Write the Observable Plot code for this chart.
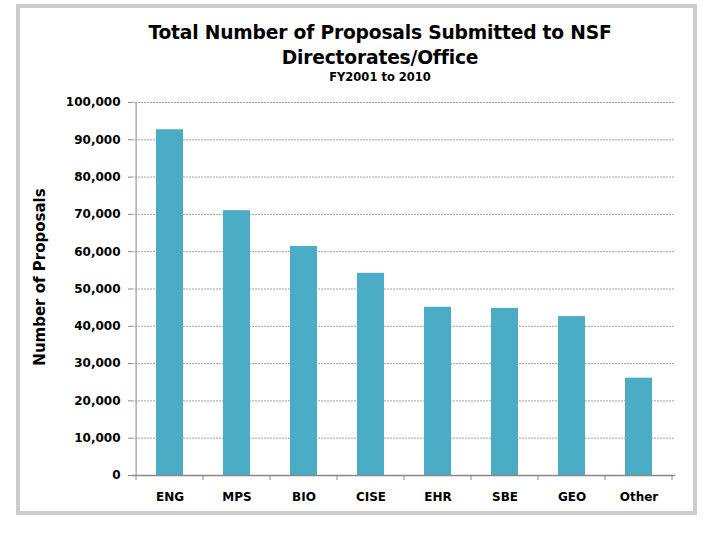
<!DOCTYPE html>
<html><head><meta charset="utf-8">
<script src="https://cdn.jsdelivr.net/npm/d3@7"></script>
<script src="https://cdn.jsdelivr.net/npm/@observablehq/plot@0.6"></script>
<style>
body{margin:0;background:#fff;font-family:"DejaVu Sans",Verdana,sans-serif;}
#wrap{position:relative;width:720px;height:540px;overflow:hidden;}
#frame{position:absolute;left:16px;top:4px;width:673px;height:503px;border:4px solid #cccccc;}
.t{position:absolute;left:0;width:760px;text-align:center;font-weight:bold;color:#000;}
#chart{position:absolute;left:0;top:0;}
</style></head>
<body><div id="wrap"><div id="frame"></div>
<div class="t" style="top:22px;font-size:18.7px;letter-spacing:-0.2px">Total Number of Proposals Submitted to NSF</div>
<div class="t" style="top:47px;font-size:18.7px;letter-spacing:-0.2px">Directorates/Office</div>
<div class="t" style="top:70px;font-size:11.5px">FY2001 to 2010</div>
<div id="chart"></div></div>
<script>
const categories = ["ENG","MPS","BIO","CISE","EHR","SBE","GEO","Other"];
const proposals = [92700, 71000, 61400, 54200, 45100, 44800, 42600, 26100];
const yTicks = [0,10000,20000,30000,40000,50000,60000,70000,80000,90000,100000];
const yLabel = "Number of Proposals";

const data = categories.map((c,i)=>({cat:c, value:proposals[i]}));
const fmt = d3.format(",");

const boundaryTicks = (index, scales, values, dimensions) => {
  const x = scales.x;
  const g = d3.create("svg:g");
  const y0 = dimensions.height - dimensions.marginBottom;
  const edges = categories.map(c => x(c) - (x.step() - x.bandwidth())/2);
  edges.push(x(categories[categories.length-1]) + x.bandwidth() + (x.step()-x.bandwidth())/2);
  for (const e of edges) {
    g.append("line").attr("x1",e).attr("x2",e).attr("y1",y0).attr("y2",y0+5)
      .attr("stroke","#888").attr("stroke-width",1);
  }
  return g.node();
};

const chart = Plot.plot({
  width: 720, height: 540,
  marginLeft: 132, marginRight: 45, marginTop: 102, marginBottom: 65,
  style: {fontFamily:"DejaVu Sans, Verdana, sans-serif", background:"transparent", color:"#000"},
  x: {domain: categories, padding: 0, label: null},
  y: {domain: [0,100000], label: null},
  marks: [
    Plot.gridY(yTicks.filter(d=>d>0), {stroke:"#888", strokeOpacity:1, strokeDasharray:"2,1", strokeWidth:0.8}),
    Plot.barY(data, {x:"cat", y:"value", fill:"#4bacc6", insetLeft:20, insetRight:20}),
    Plot.ruleY([0], {stroke:"#888", strokeWidth:1.5}),
    Plot.ruleX([0], {x: ()=>categories[0], stroke:"#888", dx: -33.9, y1:0, y2:100000}),
    boundaryTicks,
    Plot.axisY({ticks: yTicks, tickFormat: fmt, tickSize:4, tickPadding:8, stroke:"#888",
      fontSize:12, fontWeight:"bold", label:null}),
    Plot.text([yLabel], {frameAnchor:"left", textAnchor:"middle", dx:-92, dy:-12, rotate:-90,
      fontSize:15, fontWeight:"bold", fill:"#000"}),
    Plot.axisX({tickSize:0, tickPadding:17, fontSize:12, fontWeight:"bold", label:null})
  ]
});
document.getElementById("chart").appendChild(chart);
</script></body></html>
